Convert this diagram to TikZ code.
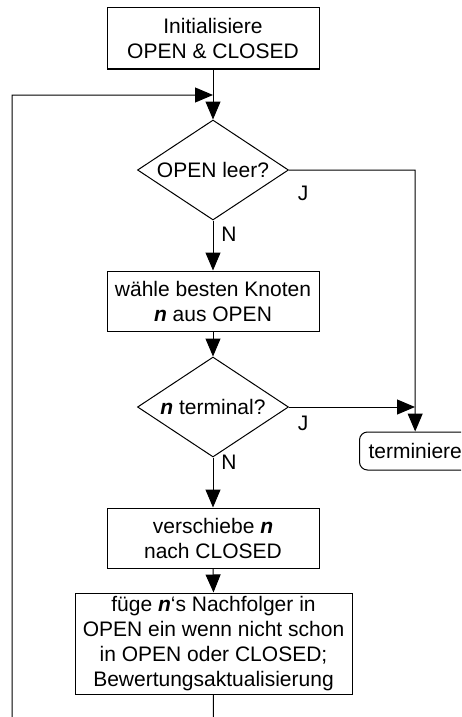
\documentclass[tikz,border=0pt]{standalone}
\usepackage{fontspec}
\setmainfont{Liberation Sans}
\usetikzlibrary{arrows.meta,shapes.geometric}
\begin{document}
\begin{tikzpicture}[x=1pt,y=-1pt,
  line width=1pt,
  font=\fontsize{21}{25}\selectfont,
  tip/.style={-{Triangle[length=18pt,width=15pt]}},
  procbox/.style={draw,fill=white,align=center,inner sep=0pt},
  decide/.style={draw,fill=white,diamond,aspect=1.51,inner sep=0pt,minimum width=151pt,minimum height=100pt},
  lbl/.style={inner sep=0pt}]
\useasboundingbox (0,0) rectangle (461,717);
\clip (0,0) rectangle (461,717);
\node[procbox,minimum width=212pt,minimum height=61pt] (init) at (213,38.5) {Initialisiere\\OPEN \& CLOSED};
\coordinate (merge) at (213,95);
\node[decide] (d1) at (213,170) {OPEN leer?};
\node[procbox,minimum width=212pt,minimum height=60pt] (sel) at (213,301) {wähle besten Knoten\\\textbf{\textit{n}} aus OPEN};
\node[decide] (d2) at (213,407) {\textbf{\textit{n}} terminal?};
\node[procbox,minimum width=212pt,minimum height=60pt] (mv) at (213,538) {verschiebe \textbf{\textit{n}}\\nach CLOSED};
\node[procbox,minimum width=277pt,minimum height=101pt] (add) at (213.5,643.5) {füge \textbf{\textit{n}}‘s Nachfolger in\\OPEN ein wenn nicht schon\\ in OPEN oder CLOSED;\\Bewertungsaktualisierung};
\node[draw,rounded corners=8pt,anchor=west,minimum width=111pt,minimum height=38pt,inner xsep=9pt,inner ysep=0pt] (term) at (359,451) {terminiere};
\coordinate (c1) at (415,170);
\coordinate (c2) at (415,407);
\coordinate (bot) at (213,760);
\coordinate (lft) at (12,760);
\coordinate (ltop) at (12,95);
% connectors
\draw[tip] (init.south) -- (d1.north);
\draw[tip] (d1.south) -- (sel.north);
\draw[tip] (sel.south) -- (d2.north);
\draw[tip] (d2.south) -- (mv.north);
\draw[tip] (mv.south) -- (add.north);
\draw[tip] (d1.east) -- (c1) -- (term.north);
\draw[tip] (d2.east) -- (c2);
\draw[tip] (add.south) -- (bot) -- (lft) -- (ltop) -- (merge);
% labels
\node[lbl] (j1) at (303,193) {J};
\node[lbl] (n1) at (229,234) {N};
\node[lbl] (j2) at (303,423) {J};
\node[lbl] (n2) at (229,462) {N};
\end{tikzpicture}
\end{document}
